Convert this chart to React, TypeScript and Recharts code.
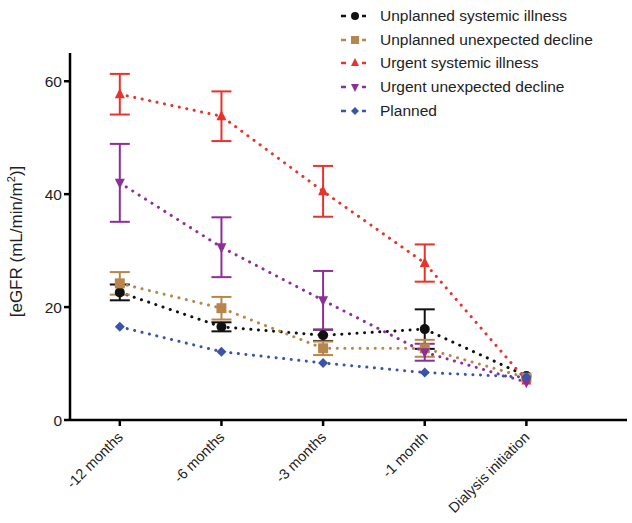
import React from 'react'
import { LineChart, Line, XAxis, YAxis, ErrorBar } from 'recharts'

const categories = ['-12 months', '-6 months', '-3 months', '-1 month', 'Dialysis initiation']

// mean values per time point
const unplannedSystemic = [22.6, 16.5, 15.0, 16.1, 7.8]
const unplannedDecline = [24.2, 19.8, 12.7, 12.7, 7.5]
const urgentSystemic = [57.7, 53.8, 40.5, 27.8, 7.0]
const urgentDecline = [42.0, 30.6, 21.2, 12.0, 6.7]
const planned = [16.5, 12.1, 10.1, 8.4, 7.6]

// error bar half-widths (SEM), null where hidden behind the marker
const unplannedSystemicErr = [1.4, 0.8, 1.0, 3.5, null]
const unplannedDeclineErr = [2.0, 2.0, 1.2, 1.5, null]
const urgentSystemicErr = [3.6, 4.4, 4.5, 3.3, null]
const urgentDeclineErr = [6.9, 5.3, 5.2, 1.5, null]
const plannedErr = [null, null, null, null, null]

const yTicks = [0, 20, 40, 60]

const series = [
  { key: 'us', name: 'Unplanned systemic illness', color: '#111111', shape: 'circle', values: unplannedSystemic, err: unplannedSystemicErr },
  { key: 'ud', name: 'Unplanned unexpected decline', color: '#b8864c', shape: 'square', values: unplannedDecline, err: unplannedDeclineErr },
  { key: 'gs', name: 'Urgent systemic illness', color: '#e8322c', shape: 'triangle', values: urgentSystemic, err: urgentSystemicErr },
  { key: 'gd', name: 'Urgent unexpected decline', color: '#8e2f98', shape: 'triangleDown', values: urgentDecline, err: urgentDeclineErr },
  { key: 'pl', name: 'Planned', color: '#3a55a8', shape: 'diamond', values: planned, err: plannedErr },
]

const data = categories.map((c, i) => {
  const row: any = { x: i, label: c }
  series.forEach((s) => {
    row[s.key] = s.values[i]
    row[s.key + 'Err'] = s.err[i]
  })
  return row
})

const font = 'Liberation Sans, Arial, sans-serif'

function Marker({ cx, cy, shape, color, r = 5 }: any) {
  if (cx == null || cy == null) return null
  if (shape === 'circle') return <circle cx={cx} cy={cy} r={r} fill={color} />
  if (shape === 'square') return <rect x={cx - r} y={cy - r} width={r * 2} height={r * 2} fill={color} />
  if (shape === 'triangle')
    return <polygon points={`${cx},${cy - r - 1} ${cx - r},${cy + r - 1} ${cx + r},${cy + r - 1}`} fill={color} />
  if (shape === 'triangleDown')
    return <polygon points={`${cx},${cy + r + 1} ${cx - r},${cy - r + 1} ${cx + r},${cy - r + 1}`} fill={color} />
  return <polygon points={`${cx},${cy - r} ${cx + r},${cy} ${cx},${cy + r} ${cx - r},${cy}`} fill={color} />
}

function XTick({ x, y, payload }: any) {
  return (
    <text
      x={x + 4}
      y={y + 10}
      transform={`rotate(-45 ${x + 4} ${y + 10})`}
      textAnchor="end"
      fontSize={14.5}
      fill="#222"
      fontFamily={font}
    >
      {categories[payload.value]}
    </text>
  )
}

function LegendBox() {
  return (
    <div style={{ position: 'absolute', left: 340, top: 4, fontFamily: font, fontSize: 15.5, color: '#222' }}>
      {series.map((s) => (
        <div key={s.key} style={{ display: 'flex', alignItems: 'center', height: 23.7 }}>
          <svg width={30} height={14} style={{ marginRight: 10 }}>
            <line x1={1} y1={7} x2={29} y2={7} stroke={s.color} strokeWidth={2.5} strokeDasharray="5 5" />
            <rect x={8} y={0} width={14} height={14} fill="#fff" />
            <Marker cx={15} cy={7} shape={s.shape} color={s.color} r={4} />
          </svg>
          <span>{s.name}</span>
        </div>
      ))}
    </div>
  )
}

export default function App() {
  return (
    <div style={{ position: 'absolute', left: 0, top: 0, width: 632, height: 523, background: '#fff' }}>
      <LineChart width={632} height={523} data={data} margin={{ top: 53, right: 5, bottom: 3, left: 10 }}>
        <XAxis
          dataKey="x"
          type="number"
          domain={[-0.49, 4.99]}
          ticks={[0, 1, 2, 3, 4]}
          tick={<XTick />}
          height={100}
          axisLine={{ stroke: '#000', strokeWidth: 2.5 }}
          tickLine={{ stroke: '#000', strokeWidth: 2.5 }}
          tickSize={6}
        />
        <YAxis
          domain={[0, 65]}
          ticks={yTicks}
          width={60}
          allowDataOverflow
          axisLine={{ stroke: '#000', strokeWidth: 2.5 }}
          tickLine={{ stroke: '#000', strokeWidth: 2.5 }}
          tickSize={6}
          tick={{ fontSize: 15.5, fill: '#222', fontFamily: font }}
          label={({ viewBox }: any) => {
            const cx = 22
            const cy = viewBox.y + viewBox.height / 2 + 5
            return (
              <text
                x={cx}
                y={cy}
                transform={`rotate(-90 ${cx} ${cy})`}
                textAnchor="middle"
                fontSize={17}
                fill="#222"
                fontFamily={font}
              >
                [eGFR (mL/min/m<tspan dy={-7} fontSize={11}>2</tspan><tspan dy={7}>)]</tspan>
              </text>
            )
          }}
        />
        {series.map((s) => (
          <Line
            key={s.key}
            dataKey={s.key}
            name={s.name}
            stroke={s.color}
            strokeWidth={3}
            strokeDasharray="0.1 7.5"
            strokeLinecap="round"
            isAnimationActive={false}
            dot={(p: any) => <Marker key={`${s.key}-${p.index}`} cx={p.cx} cy={p.cy} shape={s.shape} color={s.color} />}
            activeDot={false}
          >
            {s.key !== 'pl' && (
              <ErrorBar dataKey={s.key + 'Err'} width={10} strokeWidth={2} stroke={s.color} direction="y" />
            )}
          </Line>
        ))}
      </LineChart>
      <LegendBox />
    </div>
  )
}
